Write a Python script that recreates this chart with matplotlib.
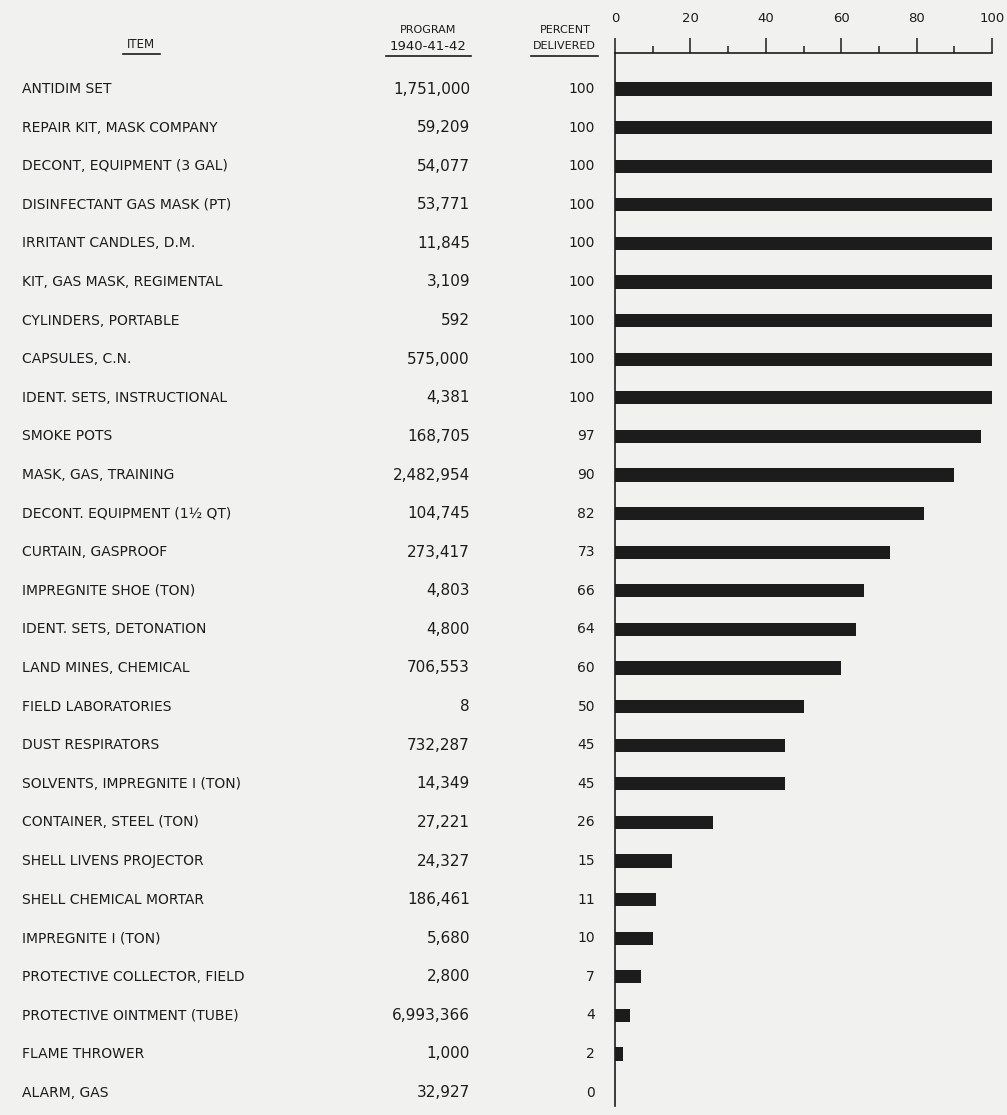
import matplotlib
matplotlib.use('Agg')

import matplotlib.pyplot as plt
from matplotlib.lines import Line2D
from matplotlib.transforms import blended_transform_factory

items = [
    "ANTIDIM SET", "REPAIR KIT, MASK COMPANY", "DECONT, EQUIPMENT (3 GAL)",
    "DISINFECTANT GAS MASK (PT)", "IRRITANT CANDLES, D.M.", "KIT, GAS MASK, REGIMENTAL",
    "CYLINDERS, PORTABLE", "CAPSULES, C.N.", "IDENT. SETS, INSTRUCTIONAL",
    "SMOKE POTS", "MASK, GAS, TRAINING", "DECONT. EQUIPMENT (1½ QT)",
    "CURTAIN, GASPROOF", "IMPREGNITE SHOE (TON)", "IDENT. SETS, DETONATION",
    "LAND MINES, CHEMICAL", "FIELD LABORATORIES", "DUST RESPIRATORS",
    "SOLVENTS, IMPREGNITE I (TON)", "CONTAINER, STEEL (TON)", "SHELL LIVENS PROJECTOR",
    "SHELL CHEMICAL MORTAR", "IMPREGNITE I (TON)", "PROTECTIVE COLLECTOR, FIELD",
    "PROTECTIVE OINTMENT (TUBE)", "FLAME THROWER", "ALARM, GAS",
]
program = [
    1751000, 59209, 54077, 53771, 11845, 3109, 592, 575000, 4381, 168705,
    2482954, 104745, 273417, 4803, 4800, 706553, 8, 732287, 14349, 27221,
    24327, 186461, 5680, 2800, 6993366, 1000, 32927,
]
percent = [
    100, 100, 100, 100, 100, 100, 100, 100, 100, 97, 90, 82, 73, 66, 64, 60,
    50, 45, 45, 26, 15, 11, 10, 7, 4, 2, 0,
]
x_ticks = [0, 20, 40, 60, 80, 100]

W, H = 1007, 1115
bg = '#f1f1ef'
ink = '#1c1c1c'

fig = plt.figure(figsize=(W / 100, H / 100), dpi=100, facecolor=bg)

# bar panel: top line at y=53px, zero at x=615px, 100 at x=992px
ax = fig.add_axes([615 / W, 1 - 1106 / H, (992 - 615) / W, (1106 - 53) / H])
ax.set_facecolor(bg)

rows = list(range(len(items)))
ax.barh(rows, percent, height=0.34, color=ink)

# row 0 at 89px, spacing ~38.6px
step = 38.6
ax.set_ylim((1106 - 89) / step, -(89 - 53) / step)
ax.set_xlim(0, 100)

for s in ['right', 'bottom']:
    ax.spines[s].set_visible(False)
for s in ['top', 'left']:
    ax.spines[s].set_linewidth(1.2)
    ax.spines[s].set_color(ink)

ax.xaxis.tick_top()
ax.set_xticks(x_ticks)
ax.set_xticks([10, 30, 50, 70, 90], minor=True)
ax.tick_params(axis='x', which='major', length=11, width=1.1, pad=9,
               labelsize=9.5, colors=ink, direction='out')
ax.tick_params(axis='x', which='minor', length=5, width=1.1, colors=ink, direction='out')
ax.set_yticks([])

# text columns
tr = blended_transform_factory(fig.transFigure, ax.transData)
for i, name in enumerate(items):
    ax.text(22 / W, i, name, transform=tr, ha='left', va='center',
            fontsize=10, color=ink, clip_on=False)
    ax.text(470 / W, i, f"{program[i]:,}", transform=tr, ha='right', va='center',
            fontsize=11, color=ink, clip_on=False)
    ax.text(595 / W, i, str(percent[i]), transform=tr, ha='right', va='center',
            fontsize=10, color=ink, clip_on=False)

# headers
fig.text(141 / W, 1 - 45 / H, "ITEM", ha='center', va='center', fontsize=8.5, color=ink)
fig.text(428 / W, 1 - 30 / H, "PROGRAM", ha='center', va='center', fontsize=8, color=ink)
fig.text(428 / W, 1 - 46 / H, "1940-41-42", ha='center', va='center', fontsize=9.5, color=ink)
fig.text(565 / W, 1 - 30 / H, "PERCENT", ha='center', va='center', fontsize=8, color=ink)
fig.text(564 / W, 1 - 46 / H, "DELIVERED", ha='center', va='center', fontsize=8, color=ink)

for x0, x1, y in [(123, 160, 54), (386, 471, 56), (531, 598, 56)]:
    fig.add_artist(Line2D([x0 / W, x1 / W], [1 - y / H, 1 - y / H],
                          transform=fig.transFigure, color=ink, lw=1.2))

fig.savefig('out.png', dpi=100, facecolor=bg)
plt.close(fig)
